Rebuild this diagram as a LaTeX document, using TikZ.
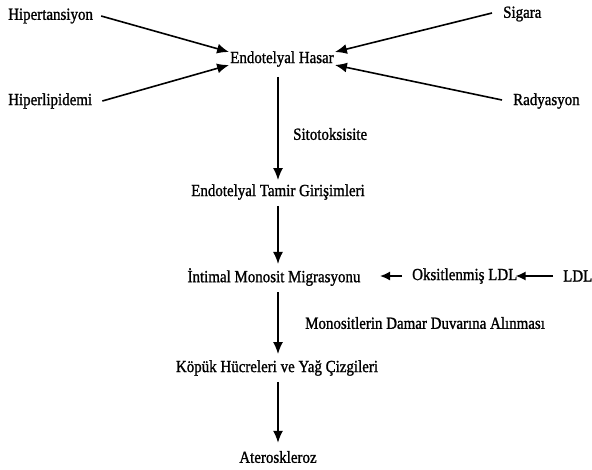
\documentclass[tikz,border=0pt]{standalone}
\usepackage{fontspec}
\setmainfont[FakeStretch=0.88,FakeBold=1.2]{Liberation Serif}
\usetikzlibrary{arrows.meta}
\begin{document}
\begin{tikzpicture}[x=1pt,y=-1pt,
  lbl/.style={inner sep=0pt,font=\fontsize{17}{20}\selectfont},
  arr/.style={line width=1.6pt,-{Latex[length=12pt,width=10pt]}},
  harr/.style={line width=1.6pt,-{Latex[length=10pt,width=9pt]}}]
\useasboundingbox (0,0) rectangle (592,469);
% nodes
\node[lbl,anchor=west] (hip) at (8,16) {Hipertansiyon};
\node[lbl,anchor=west] (sig) at (503,14) {Sigara};
\node[lbl] (eh) at (282,59) {Endotelyal Hasar};
\node[lbl,anchor=west] (hl) at (8,101) {Hiperlipidemi};
\node[lbl,anchor=west] (rad) at (513,101) {Radyasyon};
\node[lbl,anchor=west] (sit) at (293,134) {Sitotoksisite};
\node[lbl] (etg) at (278,192) {Endotelyal Tamir Girişimleri};
\node[lbl] (imm) at (274,277) {İntimal Monosit Migrasyonu};
\node[lbl,anchor=west] (oks) at (412,276) {Oksitlenmiş LDL};
\node[lbl,anchor=west] (ldl) at (563,276) {LDL};
\node[lbl,anchor=west] (mon) at (305,323) {Monositlerin Damar Duvarına Alınması};
\node[lbl] (kop) at (277,368) {Köpük Hücreleri ve Yağ Çizgileri};
\node[lbl] (ate) at (278,457) {Ateroskleroz};
% helper coordinate for the vertical axis
\coordinate (axis) at (278,0);
% connectors
\draw[arr] ([xshift=8pt]hip.east) -- ([xshift=-1pt,yshift=7pt]eh.west);
\draw[arr] ([xshift=10pt]hl.east) -- ([xshift=-1pt,yshift=-6pt]eh.west);
\draw[arr] ([xshift=-11pt,yshift=1pt]sig.west) -- ([xshift=1pt,yshift=7pt]eh.east);
\draw[arr] ([xshift=-11pt,yshift=1pt]rad.west) -- ([xshift=1pt,yshift=-6pt]eh.east);
\draw[arr] ([yshift=-10pt]eh.south -| axis) -- ([yshift=4pt]etg.north -| axis);
\draw[arr] ([yshift=-6pt]etg.south -| axis) -- ([yshift=4pt]imm.north -| axis);
\draw[harr] ([xshift=-10pt]oks.west) -- ([xshift=-32pt]oks.west);
\draw[harr] ([xshift=-10pt]ldl.west) -- ([xshift=-2pt]oks.east);
\draw[arr] ([yshift=-6pt]imm.south -| axis) -- ([yshift=6pt]kop.north -| axis);
\draw[arr] ([yshift=-6pt]kop.south -| axis) -- ([yshift=8pt]ate.north -| axis);
\end{tikzpicture}
\end{document}
